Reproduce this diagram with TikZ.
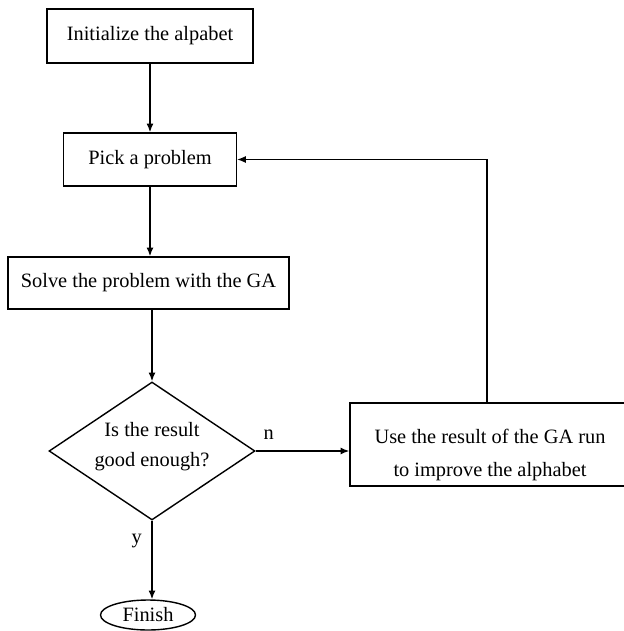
\documentclass[tikz,border=0pt]{standalone}
\usepackage{fontspec}
\setmainfont{Liberation Serif}
\usetikzlibrary{shapes.geometric,arrows.meta}
\begin{document}
\begin{tikzpicture}[x=0.02cm,y=-0.02cm,
    font=\fontsize{11.6}{14}\selectfont,
    box/.style={rectangle,draw,thick,inner sep=0pt},
    flow/.style={thick,-{Latex[length=5pt,width=4pt]}}]
        \useasboundingbox (0,0) rectangle (624,631);
        \clip (0,0) rectangle (624,631);
        \node[box,minimum width=4.12cm,minimum height=1.08cm] (init) at (150,36) {Initialize the alpabet};
        \node[box,minimum width=3.46cm,minimum height=1.06cm] (pick) at (150,159.5) {Pick a problem};
        \node[box,minimum width=5.62cm,minimum height=1.04cm] (solve) at (148.5,283) {Solve the problem with the GA};
        \node[draw,thick,shape=diamond,inner sep=0pt,minimum width=4.12cm,minimum height=2.76cm] (good) at (152,451)
            {\raisebox{-0.7pt}[0pt][0pt]{\begin{tabular}{@{}c@{}}Is the result\\[3pt]good enough?\end{tabular}}};
        \node[box,minimum width=5.6cm,minimum height=1.66cm] (upd) at (490,444.5)
            {\raisebox{-6pt}[\height][\depth]{\begin{tabular}{@{}c@{}}Use the result of the GA run\\[5pt]to improve the alphabet\end{tabular}}};
        \node[draw,thick,shape=ellipse,inner sep=0pt,minimum width=1.9cm,minimum height=0.6cm] (fin) at (148,615) {Finish};
        \draw[flow] (init) -- (pick);
        \draw[flow] (pick.south) -- (pick.south |- solve.north);
        \draw[flow] (solve.south -| good.north) -- (good);
        \draw[flow] (good.east) -- (good.east -| upd.west) node[pos=0.14,above=3pt] (no) {n};
        \draw[flow] (good.south) -- (good.south |- fin.north) node[pos=0.26,left=2pt] (yes) {y};
        \draw[semithick,-{Latex[length=5pt,width=4pt]}] (487,0 |- upd.north) |- (pick.east);
      \end{tikzpicture}
\end{document}
